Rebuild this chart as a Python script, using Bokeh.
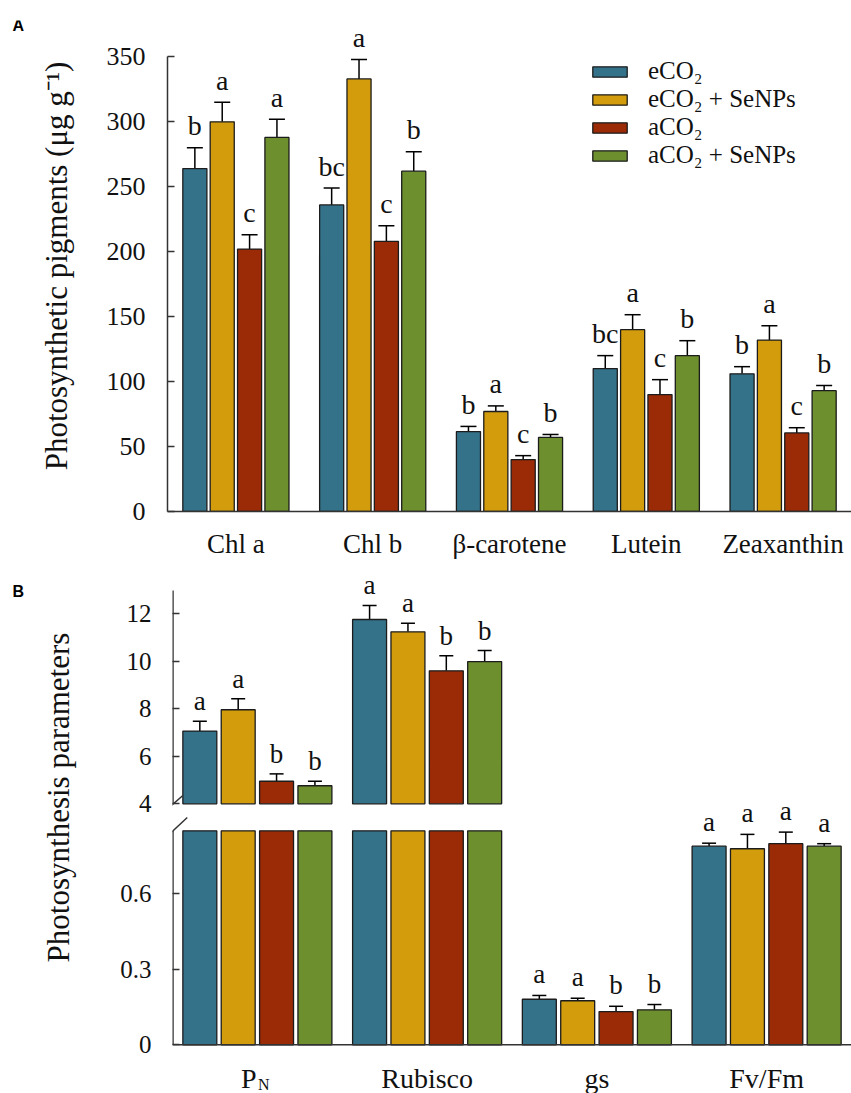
import numpy as np
from bokeh.plotting import figure
from bokeh.models import (Range1d, FixedTicker, ColumnDataSource, Whisker, TeeHead,
                          Legend, LegendItem, Span)
from bokeh.layouts import column, row
from bokeh.core.properties import value
from bokeh.embed import file_html
from bokeh.resources import INLINE

SERIF = "Liberation Serif"
SANS = "Liberation Sans"

# ---------------- data: panel A ----------------
pigments = ["Chl a", "Chl b", "β-carotene", "Lutein", "Zeaxanthin"]
series_names = ["eCO₂", "eCO₂ + SeNPs", "aCO₂", "aCO₂ + SeNPs"]
colors = ["#34728a", "#d39c0d", "#9b2a06", "#6e8f2e"]

pig_eco2 = [264, 236, 61.5, 110, 106]
pig_eco2_se = [300, 333, 77, 140, 132]
pig_aco2 = [202, 208, 40, 90, 60.5]
pig_aco2_se = [288, 262, 57, 120, 93]
pig_eco2_err = [16, 13, 4, 10, 5.5]
pig_eco2_se_err = [15, 15, 4.3, 11.5, 11]
pig_aco2_err = [11, 12, 3, 11.5, 4]
pig_aco2_se_err = [14, 15, 2.3, 11.5, 4]
pig_eco2_let = ["b", "bc", "b", "bc", "b"]
pig_eco2_se_let = ["a", "a", "a", "a", "a"]
pig_aco2_let = ["c", "c", "c", "c", "c"]
pig_aco2_se_let = ["a", "b", "b", "b", "b"]
pig_ticks = [0, 50, 100, 150, 200, 250, 300, 350]

# ---------------- data: panel B ----------------
params = ["P", "Rubisco", "gs", "Fv/Fm"]
params_sub = ["N", "", "", ""]
par_eco2 = [7.06, 11.76, 0.181, 0.789]
par_eco2_se = [7.96, 11.24, 0.175, 0.779]
par_aco2 = [4.95, 9.60, 0.132, 0.799]
par_aco2_se = [4.76, 9.99, 0.139, 0.789]
par_eco2_err = [0.42, 0.59, 0.015, 0.012]
par_eco2_se_err = [0.46, 0.36, 0.010, 0.057]
par_aco2_err = [0.31, 0.63, 0.021, 0.046]
par_aco2_se_err = [0.19, 0.46, 0.021, 0.010]
par_eco2_let = ["a", "a", "a", "a"]
par_eco2_se_let = ["a", "a", "a", "a"]
par_aco2_let = ["b", "b", "b", "a"]
par_aco2_se_let = ["b", "b", "b", "a"]
upper_ticks = [4, 6, 8, 10, 12]
lower_ticks = [0, 0.3, 0.6]
break_low = 0.85      # top of the lower axis segment
break_high = 4        # bottom of the upper axis segment
upper_axis_top = 12.98

AXC = "#333333"
BARLINE = "#1c1c1c"
TXT = "#111111"


def style_plain(p):
    p.xgrid.grid_line_color = None
    p.ygrid.grid_line_color = None
    p.outline_line_color = None
    p.background_fill_color = "white"


def label_fig(w, h):
    p = figure(width=w, height=h, x_range=Range1d(0, w), y_range=Range1d(0, h), title=None,
               output_backend="svg", toolbar_location=None, min_border=0,
               x_axis_location=None, y_axis_location=None)
    style_plain(p)
    return p


# ================= Panel A =================
HA = 570
pLA = label_fig(30, HA)
pLA.text(x=[12], y=[HA - 6], text=["A"], text_align="left", text_baseline="middle",
         text_font=value(SANS), text_font_style="bold", text_font_size="16px", text_color="black")

pA = figure(width=821, height=HA, x_range=Range1d(0, 5), y_range=Range1d(0, 378), title=None,
            output_backend="svg", toolbar_location=None,
            min_border_left=137, min_border_right=0, min_border_top=20, min_border_bottom=59)
style_plain(pA)

A_vals = [pig_eco2, pig_eco2_se, pig_aco2, pig_aco2_se]
A_errs = [pig_eco2_err, pig_eco2_se_err, pig_aco2_err, pig_aco2_se_err]
A_lets = [pig_eco2_let, pig_eco2_se_let, pig_aco2_let, pig_aco2_se_let]
centersA = np.arange(len(pigments)) + 0.5
offsA = [-0.3, -0.1, 0.1, 0.3]
rendA = []
for k in range(4):
    v = np.array(A_vals[k], dtype=float)
    e = np.array(A_errs[k], dtype=float)
    src = ColumnDataSource(dict(x=centersA + offsA[k], top=v, upper=v + e, let=A_lets[k]))
    r = pA.vbar(x="x", top="top", bottom=0, width=0.176, source=src,
                fill_color=colors[k], line_color=BARLINE, line_width=1.3)
    rendA.append(r)
    pA.add_layout(Whisker(source=src, base="x", lower="top", upper="upper", dimension="height",
                          line_color="black", line_width=1.5, lower_head=None,
                          upper_head=TeeHead(size=16, line_color="black", line_width=1.5)))
    pA.text(x="x", y="upper", text="let", source=src, text_align="center",
            text_baseline="alphabetic", y_offset=-22, text_font=value(SERIF),
            text_font_size="28px", text_color=TXT)

ya = pA.yaxis[0]
ya.ticker = FixedTicker(ticks=pig_ticks)
ya.bounds = (0, 350)
ya.major_tick_in = 7
ya.major_tick_out = 0
ya.minor_tick_line_color = None
ya.major_label_standoff = 22
ya.major_label_text_font = SERIF
ya.major_label_text_font_size = "26px"
ya.major_label_text_color = TXT
ya.axis_label = "Photosynthetic pigments (μg g⁻¹)"
ya.axis_label_text_font = SERIF
ya.axis_label_text_font_size = "31px"
ya.axis_label_text_font_style = "normal"
ya.axis_label_text_color = TXT
ya.axis_label_standoff = 30
ya.axis_line_color = AXC
ya.axis_line_width = 1.5
ya.major_tick_line_color = AXC
ya.major_tick_line_width = 1.5

xa = pA.xaxis[0]
xa.ticker = FixedTicker(ticks=list(centersA))
xa.major_label_overrides = {float(c): n for c, n in zip(centersA, pigments)}
xa.major_tick_line_color = None
xa.major_tick_in = 0
xa.major_tick_out = 0
xa.minor_tick_line_color = None
xa.major_label_standoff = 17
xa.major_label_text_font = SERIF
xa.major_label_text_font_size = "27px"
xa.major_label_text_color = TXT
xa.axis_line_color = AXC
xa.axis_line_width = 1.5

legend = Legend(items=[LegendItem(label=n, renderers=[r]) for n, r in zip(series_names, rendA)],
                location=(421, 342), orientation="vertical", glyph_width=43, glyph_height=13,
                label_standoff=17, padding=0, margin=0, spacing=0,
                border_line_color=None, background_fill_alpha=0,
                label_text_font=SERIF, label_text_font_size="25px",
                label_text_color=TXT, label_text_line_height=0.9)
pA.add_layout(legend)

# ================= Panel B =================
HB = 523
pLB = label_fig(100, HB)
pLB.text(x=[12], y=[HB - 21], text=["B"], text_align="left", text_baseline="middle",
         text_font=value(SANS), text_font_style="bold", text_font_size="16px", text_color="black")
pLB.text(x=[58], y=[HB - (797 - 570)], text=["Photosynthesis parameters"], angle=np.pi / 2,
         text_align="center", text_baseline="middle", text_font=value(SERIF),
         text_font_size="31px", text_color=TXT)

# lower segment in the main y range, upper segment in an extra y range (broken axis)
lo_range = Range1d(-0.1935, 1.8844)
up_range = Range1d(-8.198, 13.823)
pB = figure(width=751, height=HB, x_range=Range1d(0, 4), y_range=lo_range, title=None,
            output_backend="svg", toolbar_location=None,
            min_border_left=72, min_border_right=0, min_border_top=0, min_border_bottom=0,
            x_axis_location=None)
pB.extra_y_ranges = {"up": up_range}
style_plain(pB)

B_vals = [par_eco2, par_eco2_se, par_aco2, par_aco2_se]
B_errs = [par_eco2_err, par_eco2_se_err, par_aco2_err, par_aco2_se_err]
B_lets = [par_eco2_let, par_eco2_se_let, par_aco2_let, par_aco2_se_let]
centersB = np.arange(len(params)) + 0.5
offsB = [-0.339, -0.113, 0.113, 0.339]
for k in range(4):
    v = np.array(B_vals[k], dtype=float)
    e = np.array(B_errs[k], dtype=float)
    xs = centersB + offsB[k]
    lets = np.array(B_lets[k])
    hi = v > break_high
    lo = v < break_low
    # lower segment (all bars, cut at the break)
    srcD = ColumnDataSource(dict(x=xs, top=np.minimum(v, break_low)))
    pB.vbar(x="x", top="top", bottom=0, width=0.2, source=srcD,
            fill_color=colors[k], line_color=BARLINE, line_width=1.3)
    srcE = ColumnDataSource(dict(x=xs[lo], top=v[lo], upper=(v + e)[lo], let=list(lets[lo])))
    pB.add_layout(Whisker(source=srcE, base="x", lower="top", upper="upper", dimension="height",
                          line_color="black", line_width=1.5, lower_head=None,
                          upper_head=TeeHead(size=14, line_color="black", line_width=1.5)))
    pB.text(x="x", y="upper", text="let", source=srcE, text_align="center",
            text_baseline="alphabetic", y_offset=-21, text_font=value(SERIF),
            text_font_size="27px", text_color=TXT)
    # upper segment
    srcU = ColumnDataSource(dict(x=xs[hi], top=v[hi], upper=(v + e)[hi], let=list(lets[hi])))
    pB.vbar(x="x", top="top", bottom=break_high, width=0.2, source=srcU, y_range_name="up",
            fill_color=colors[k], line_color=BARLINE, line_width=1.3)
    pB.add_layout(Whisker(source=srcU, base="x", lower="top", upper="upper", dimension="height",
                          y_range_name="up", line_color="black", line_width=1.5, lower_head=None,
                          upper_head=TeeHead(size=14, line_color="black", line_width=1.5)))
    pB.text(x="x", y="upper", text="let", source=srcU, y_range_name="up", text_align="center",
            text_baseline="alphabetic", y_offset=-20, text_font=value(SERIF),
            text_font_size="27px", text_color=TXT)

# y axis: ticks of both segments on one axis (upper ticks mapped into the main range)
lo0, lo1 = lo_range.start, lo_range.end
up0, up1 = up_range.start, up_range.end


def up_to_lo(u):
    return round(lo0 + (u - up0) * (lo1 - lo0) / (up1 - up0), 9)


tick_pos = list(lower_ticks) + [up_to_lo(u) for u in upper_ticks]
overrides = {float(t): ("0" if t == 0 else str(t)) for t in lower_ticks}
overrides.update({up_to_lo(u): str(u) for u in upper_ticks})
yb = pB.yaxis[0]
yb.ticker = FixedTicker(ticks=tick_pos)
yb.major_label_overrides = overrides
yb.axis_line_color = None
yb.major_tick_in = 7
yb.major_tick_out = 0
yb.minor_tick_line_color = None
yb.major_label_standoff = 21
yb.major_label_text_font = SERIF
yb.major_label_text_font_size = "25px"
yb.major_label_text_color = TXT
yb.major_tick_line_color = AXC
yb.major_tick_line_width = 1.5

# the two pieces of the broken y axis line and the break marks
pB.segment(x0=[0], y0=[0], x1=[0], y1=[break_low], line_color=AXC, line_width=2.5)
pB.segment(x0=[0], y0=[break_high], x1=[0], y1=[upper_axis_top], y_range_name="up",
           line_color=AXC, line_width=2.5)
pB.segment(x0=[-0.033], y0=[break_high - 0.24], x1=[0.061], y1=[break_high + 0.35],
           y_range_name="up", line_color=AXC, line_width=1.5)
pB.segment(x0=[-0.09], y0=[break_low - 0.058], x1=[0.087], y1=[break_low + 0.053],
           line_color=AXC, line_width=1.5)

# x axis line and category labels
pB.add_layout(Span(location=0, dimension="width", line_color=AXC, line_width=1.5))
srcX = ColumnDataSource(dict(x=centersB, y=np.zeros(len(params)), t=params,
                             xo=[-8.5 if s else 0 for s in params_sub]))
pB.text(x="x", y="y", text="t", source=srcX, x_offset="xo", y_offset=34,
        text_align="center", text_baseline="alphabetic", text_font=value(SERIF),
        text_font_size="28px", text_color=TXT)
srcS = ColumnDataSource(dict(x=centersB, y=np.zeros(len(params)), t=params_sub))
pB.text(x="x", y="y", text="t", source=srcS, x_offset=0.5, y_offset=40,
        text_align="left", text_baseline="alphabetic", text_font=value(SERIF),
        text_font_size="16px", text_color=TXT)

layout = column(row(pLA, pA), row(pLB, pB))
open("out.html", "w").write(file_html(layout, INLINE))
